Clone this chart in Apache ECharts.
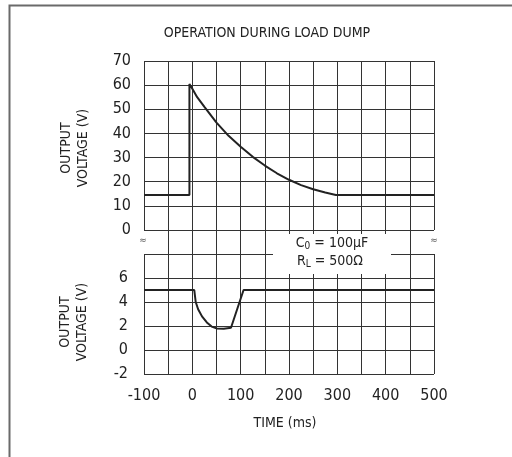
<!DOCTYPE html>
<html>
<head>
<meta charset="utf-8">
<script src="https://cdn.jsdelivr.net/npm/echarts@6/dist/echarts.min.js"></script>
<style>
html,body{margin:0;padding:0;background:#fff;}
#c{width:512px;height:457px;}
</style>
</head>
<body>
<div id="c"></div>
<script>
// Top trace: output voltage (V) vs time (ms)
var topTime = [-100, -6, -6, 0, 10, 25, 50, 75, 100, 125, 150, 175, 200, 225, 250, 275, 297, 500];
var topVolt = [14.5, 14.5, 60.5, 58.5, 55, 51, 44.5, 39, 34.5, 30.3, 26.7, 23.5, 20.8, 18.6, 16.9, 15.5, 14.5, 14.5];
// Bottom trace: output voltage (V) vs time (ms)
var botTime = [-100, 4, 7, 12, 20, 30, 40, 50, 65, 80, 84, 106, 500];
var botVolt = [5, 5, 4, 3.4, 2.8, 2.3, 1.95, 1.8, 1.78, 1.85, 1.95, 5, 5];
// Tick labels
var timeTicks = [-100, 0, 100, 200, 300, 400, 500];
var topTicks = [0, 10, 20, 30, 40, 50, 60, 70];
var botTicks = [-2, 0, 2, 4, 6];

var FONT = "'Liberation Sans Narrow', 'DejaVu Sans Condensed', sans-serif";
var INK = '#222';
var GRIDC = '#333';

function pairs(xs, ys) { return xs.map(function (x, i) { return [x, ys[i]]; }); }

var chart = echarts.init(document.getElementById('c'), null, {renderer: 'canvas'});

var L = 144, R = 512 - 434, COL = 290 / 12;

var splitX = {show: true, lineStyle: {color: GRIDC, width: 1}};
var hiddenLine = {show: false};

chart.setOption({
  animation: false,
  backgroundColor: '#fff',
  grid: [
    {left: L, right: R, top: 61, height: 169},
    {left: L, right: R, top: 254, height: 120},
    {left: L + COL, right: R + COL, top: 230, height: 24}
  ],
  xAxis: [
    {type: 'value', gridIndex: 0, min: -100, max: 500, interval: 50,
     axisLine: hiddenLine, axisTick: hiddenLine, axisLabel: {show: false}, splitLine: splitX},
    {type: 'value', gridIndex: 1, min: -100, max: 500, interval: 50,
     axisLine: hiddenLine, axisTick: hiddenLine, splitLine: splitX,
     axisLabel: {
       margin: 14, fontFamily: FONT, fontSize: 16, color: INK,
       formatter: function (v) { return timeTicks.indexOf(v) >= 0 ? String(v) : ''; }
     }},
    {type: 'value', gridIndex: 2, min: -50, max: 450, interval: 50,
     axisLine: hiddenLine, axisTick: hiddenLine, axisLabel: {show: false}, splitLine: splitX}
  ],
  yAxis: [
    {type: 'value', gridIndex: 0, min: 0, max: 70, interval: 10,
     axisLine: hiddenLine, axisTick: hiddenLine, splitLine: splitX,
     axisLabel: {margin: 13, fontFamily: FONT, fontSize: 16, color: INK,
       formatter: function (v) { return topTicks.indexOf(v) >= 0 ? String(v) : ''; }}},
    {type: 'value', gridIndex: 1, min: -2, max: 8, interval: 2,
     axisLine: hiddenLine, axisTick: hiddenLine, splitLine: splitX,
     axisLabel: {margin: 16, fontFamily: FONT, fontSize: 16, color: INK,
       formatter: function (v) { return botTicks.indexOf(v) >= 0 ? String(v) : ''; }}},
    {type: 'value', gridIndex: 2, min: 0, max: 1, show: false, splitLine: {show: false}}
  ],
  series: [
    {type: 'line', xAxisIndex: 0, yAxisIndex: 0, data: pairs(topTime, topVolt),
     showSymbol: false, symbol: 'none', lineStyle: {color: INK, width: 2}, z: 5},
    {type: 'line', xAxisIndex: 1, yAxisIndex: 1, data: pairs(botTime, botVolt),
     showSymbol: false, symbol: 'none', lineStyle: {color: INK, width: 2}, z: 5}
  ],
  graphic: [
    // outer frame (only top and left edges are inside the picture)
    {type: 'rect', shape: {x: 9.5, y: 5.5, width: 600, height: 600},
     style: {fill: 'none', stroke: '#6a6a6a', lineWidth: 2}, z: 1},
    // title
    {type: 'text', x: 267, y: 33,
     style: {text: 'OPERATION DURING LOAD DUMP', align: 'center', verticalAlign: 'middle',
       font: '14px ' + FONT, fill: INK}},
    // axis titles
    {type: 'text', x: 75, y: 148, rotation: Math.PI / 2,
     style: {text: 'OUTPUT\nVOLTAGE (V)', align: 'center', verticalAlign: 'middle',
       font: '14px ' + FONT, fill: INK, lineHeight: 17}},
    {type: 'text', x: 74, y: 322, rotation: Math.PI / 2,
     style: {text: 'OUTPUT\nVOLTAGE (V)', align: 'center', verticalAlign: 'middle',
       font: '14px ' + FONT, fill: INK, lineHeight: 17}},
    {type: 'text', x: 285, y: 423,
     style: {text: 'TIME (ms)', align: 'center', verticalAlign: 'middle',
       font: '14px ' + FONT, fill: INK}},
    // axis break marks
    {type: 'text', x: 143, y: 241, style: {text: '≈', align: 'center', verticalAlign: 'middle',
       font: '9px DejaVu Sans', fill: '#555'}},
    {type: 'text', x: 434, y: 241, style: {text: '≈', align: 'center', verticalAlign: 'middle',
       font: '9px DejaVu Sans', fill: '#555'}},
    // annotation box
    {type: 'rect', shape: {x: 273, y: 234, width: 118, height: 40},
     style: {fill: '#fff', stroke: 'none'}, z: 10},
    {type: 'text', x: 332, y: 243, z: 11,
     style: {text: '{n|C}{s|0}{n| = 100μF}', align: 'center', verticalAlign: 'middle',
       rich: {n: {fontFamily: FONT, fontSize: 14, fill: INK, lineHeight: 16},
              s: {fontFamily: FONT, fontSize: 10, fill: INK, lineHeight: 16, verticalAlign: 'bottom', padding: [8, 0, 0, 0]}}}},
    {type: 'text', x: 330, y: 261, z: 11,
     style: {text: '{n|R}{s|L}{n| = 500Ω}', align: 'center', verticalAlign: 'middle',
       rich: {n: {fontFamily: FONT, fontSize: 14, fill: INK, lineHeight: 16},
              s: {fontFamily: FONT, fontSize: 10, fill: INK, lineHeight: 16, verticalAlign: 'bottom', padding: [8, 0, 0, 0]}}}}
  ]
});
</script>
</body>
</html>
